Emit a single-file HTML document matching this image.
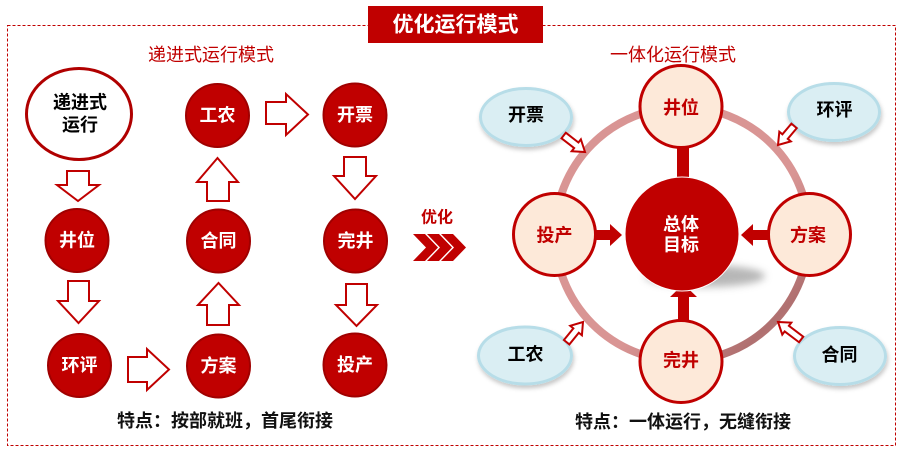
<!DOCTYPE html>
<html><head><meta charset="utf-8"><style>
html,body{margin:0;padding:0;background:#fff;}
svg{display:block;}
text{font-family:"Liberation Sans","Noto Sans CJK SC",sans-serif;}
.b{font-weight:bold;}
</style></head><body>
<svg width="903" height="452" viewBox="0 0 903 452" xmlns="http://www.w3.org/2000/svg">
<defs>
<filter id="blur4" x="-50%" y="-50%" width="200%" height="200%"><feGaussianBlur stdDeviation="4"/></filter>
<filter id="sh" x="-30%" y="-30%" width="160%" height="170%"><feDropShadow dx="1" dy="3" stdDeviation="2" flood-color="#000" flood-opacity="0.22"/></filter>
<linearGradient id="ringg" x1="0" y1="0" x2="1" y2="1">
<stop offset="0" stop-color="#d99594"/><stop offset="0.6" stop-color="#d99594"/><stop offset="0.85" stop-color="#b07070"/><stop offset="1" stop-color="#c89090"/>
</linearGradient>
</defs>

<!-- dashed border -->
<rect x="7.5" y="25.5" width="888" height="420" fill="none" stroke="#c00000" stroke-width="1" stroke-dasharray="3,2"/>
<!-- title -->
<rect x="368" y="6" width="175" height="37" fill="#c00000"/>
<text x="455.5" y="25" text-anchor="middle" dominant-baseline="central" class="b" font-size="21" fill="#fff">优化运行模式</text>

<!-- subtitles -->
<text x="211" y="55" text-anchor="middle" dominant-baseline="central" font-size="18" fill="#c00000">递进式运行模式</text>
<text x="673" y="55" text-anchor="middle" dominant-baseline="central" font-size="18" fill="#c00000">一体化运行模式</text>

<!-- LEFT SIDE -->
<ellipse cx="79" cy="114" rx="52.5" ry="45.5" fill="#fff" stroke="#b00000" stroke-width="3"/>
<text x="80" y="102.5" text-anchor="middle" dominant-baseline="central" class="b" font-size="18" fill="#000">递进式</text>
<text x="80" y="125" text-anchor="middle" dominant-baseline="central" class="b" font-size="18" fill="#000">运行</text>

<g fill="#c00000" stroke="#a00000" stroke-width="2">
<circle cx="217.5" cy="115.5" r="31.5"/>
<circle cx="355" cy="115" r="31.5"/>
<circle cx="77" cy="240.5" r="31.5"/>
<circle cx="218.5" cy="241" r="31.5"/>
<circle cx="355.5" cy="241" r="31.5"/>
<circle cx="79.5" cy="365.5" r="31.5"/>
<circle cx="218.5" cy="366" r="31.5"/>
<circle cx="355" cy="365" r="31.5"/>
</g>
<g class="b" font-size="18" fill="#fff" text-anchor="middle" dominant-baseline="central">
<text x="217.5" y="115.5">工农</text>
<text x="355" y="115">开票</text>
<text x="77" y="240.5">井位</text>
<text x="218.5" y="241">合同</text>
<text x="355.5" y="241">完井</text>
<text x="79.5" y="365.5">环评</text>
<text x="218.5" y="366">方案</text>
<text x="355" y="365">投产</text>
</g>

<!-- block arrows -->
<g fill="#fff" stroke="#c00000" stroke-width="2" stroke-linejoin="miter">
<polygon points="67,171 89,171 89,185 99,185 78,201 57,185 67,185"/>
<polygon points="68,281 89,281 89,301 99,301 78.5,323 58,301 68,301"/>
<polygon points="128,357 147,357 147,349 169,369.5 147,390 147,382 128,382"/>
<polygon points="207,325 229,325 229,305 239,305 218.5,283 198,305 207,305"/>
<polygon points="207,201 229,201 229,182 238,182 217.5,158 197,182 207,182"/>
<polygon points="266,102 286,102 286,94 308,114.5 286,135 286,124 266,124"/>
<polygon points="344,157 366,157 366,176 376,176 355,199 334,176 344,176"/>
<polygon points="346,284 367,284 367,305 377,305 356.5,326 336,305 346,305"/>
</g>

<text x="225" y="421" text-anchor="middle" dominant-baseline="central" class="b" font-size="18" fill="#111">特点：按部就班，首尾衔接</text>

<!-- middle 优化 -->
<text x="437" y="218" text-anchor="middle" dominant-baseline="central" class="b" font-size="16" fill="#c00000">优化</text>
<g fill="#c00000">
<polygon points="413,234 425,234 438,247.5 425,261 413,261 426,247.5"/>
<polygon points="427,234 439,234 452,247.5 439,261 427,261 440,247.5"/>
<polygon points="441,234 453,234 466,247.5 453,261 441,261 454,247.5"/>
</g>

<!-- RIGHT SIDE -->
<circle cx="682" cy="234" r="127" fill="none" stroke="url(#ringg)" stroke-width="8"/>

<g fill="#c00000">
<rect x="677" y="140" width="12" height="45"/>
<polygon points="678,322 689,322 689,297 697,297 683.5,284 670,297 678,297"/>
<polygon points="592,230 610,230 610,224 622,235 610,246 610,240 592,240"/>
<polygon points="772,230 753,230 753,224 741,235 753,246 753,240 772,240"/>
</g>

<!-- center shadow + circle -->
<ellipse cx="705" cy="276" rx="60" ry="11" fill="#999" filter="url(#blur4)" opacity="0.7"/>
<circle cx="682" cy="234" r="57" fill="#c00000" stroke="#fff" stroke-width="1"/>
<text x="681" y="224.5" text-anchor="middle" dominant-baseline="central" class="b" font-size="18" fill="#fff">总体</text>
<text x="681" y="245" text-anchor="middle" dominant-baseline="central" class="b" font-size="18" fill="#fff">目标</text>

<g fill="#fde9d9" stroke="#c00000" stroke-width="3">
<circle cx="681" cy="106.5" r="41"/>
<circle cx="554.5" cy="234.5" r="41"/>
<circle cx="809.5" cy="234.5" r="41"/>
<circle cx="681" cy="361.5" r="41"/>
</g>
<g class="b" font-size="18" fill="#c00000" text-anchor="middle" dominant-baseline="central">
<text x="681" y="108">井位</text>
<text x="554.5" y="235.5">投产</text>
<text x="808" y="235.5">方案</text>
<text x="681" y="360.5">完井</text>
</g>

<!-- blue ellipses -->
<g fill="#daeef3" stroke="#b7dde8" stroke-width="3" filter="url(#sh)">
<ellipse cx="526" cy="117" rx="45.5" ry="28.5"/>
<ellipse cx="834" cy="112" rx="45.5" ry="28.5"/>
<ellipse cx="525" cy="355.5" rx="46.5" ry="28.5"/>
<ellipse cx="840" cy="356" rx="45.5" ry="28.5"/>
</g>
<g class="b" font-size="18" fill="#000" text-anchor="middle" dominant-baseline="central">
<text x="526" y="115">开票</text>
<text x="834.5" y="110">环评</text>
<text x="525.5" y="354.5">工农</text>
<text x="839.5" y="355">合同</text>
</g>

<!-- small diagonal arrows -->
<g fill="#fff" stroke="#c00000" stroke-width="2">
<polygon transform="translate(585,152) rotate(37.7) translate(-27,0)" points="0,-3.5 16,-3.5 16,-7.5 27,0 16,7.5 16,3.5 0,3.5"/>
<polygon transform="translate(778,145) rotate(130) translate(-25,0)" points="0,-3.5 14,-3.5 14,-7.5 25,0 14,7.5 14,3.5 0,3.5"/>
<polygon transform="translate(583,322) rotate(-51) translate(-26,0)" points="0,-3.5 15,-3.5 15,-7.5 26,0 15,7.5 15,3.5 0,3.5"/>
<polygon transform="translate(778,322) rotate(-143) translate(-29,0)" points="0,-3.5 18,-3.5 18,-7.5 29,0 18,7.5 18,3.5 0,3.5"/>
</g>

<text x="683" y="422" text-anchor="middle" dominant-baseline="central" class="b" font-size="18" fill="#111">特点：一体运行，无缝衔接</text>
</svg>
</body></html>
